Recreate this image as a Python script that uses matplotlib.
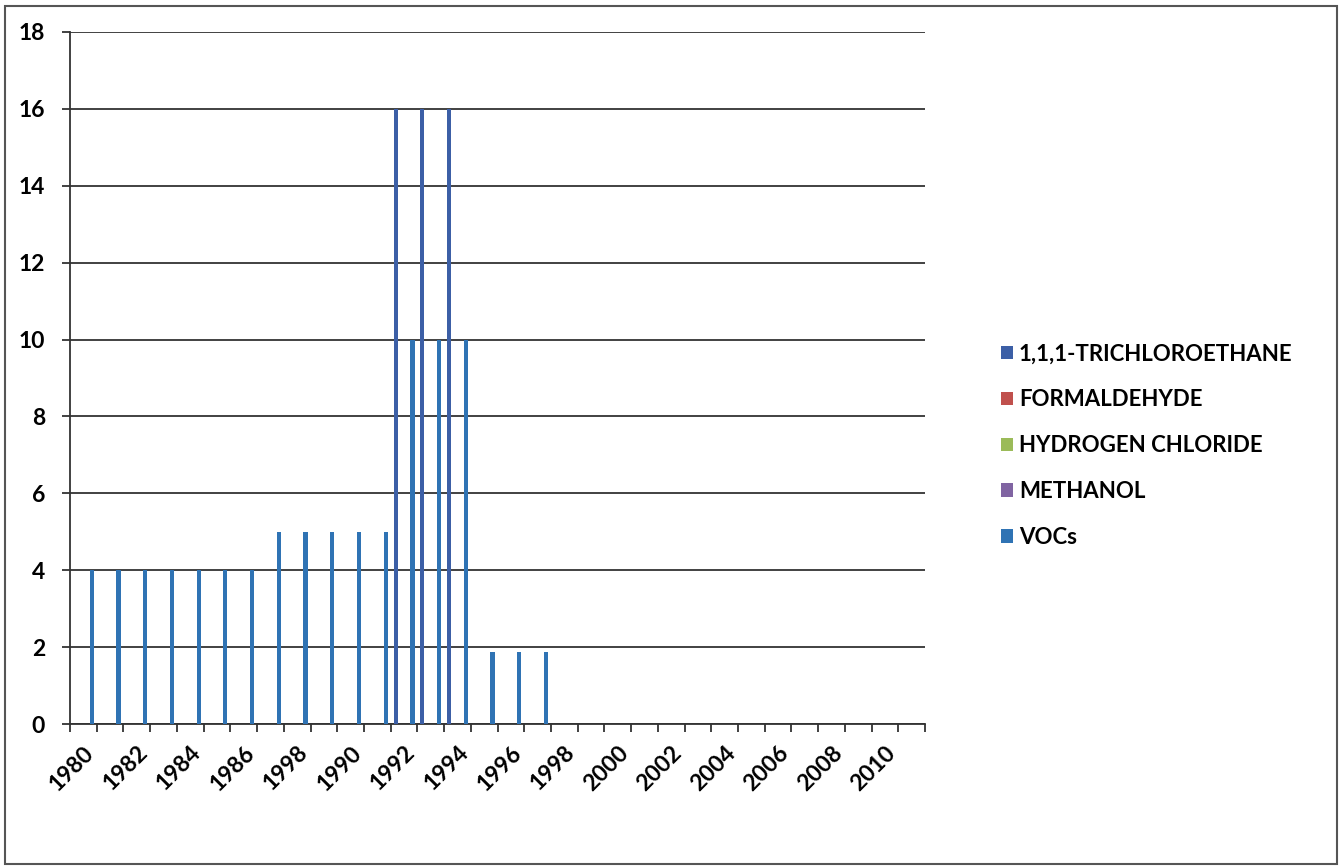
import numpy as np
import matplotlib
matplotlib.use('Agg')
from matplotlib import pyplot as plt
from matplotlib.patches import Rectangle

plt.rcParams['font.family'] = ['Lato', 'DejaVu Sans']
plt.rcParams['font.weight'] = 'bold'

# data
years = list(range(1980, 2012))
tick_labels = ['1980', '1982', '1984', '1986', '1998', '1990', '1992', '1994',
               '1996', '1998', '2000', '2002', '2004', '2006', '2008', '2010']
series_names = ['1,1,1-TRICHLOROETHANE', 'FORMALDEHYDE', 'HYDROGEN CHLORIDE', 'METHANOL', 'VOCs']
trichloroethane = [0] * 12 + [16, 16, 16] + [0] * 17
formaldehyde = [0] * 32
hydrogen_chloride = [0] * 32
methanol = [0] * 32
vocs = [4] * 7 + [5] * 5 + [10] * 3 + [1.88] * 3 + [0] * 14
colors = ['#3c5fa6', '#c0504d', '#9bbb59', '#8064a2', '#2f73b4']

values = [trichloroethane, formaldehyde, hydrogen_chloride, methanol, vocs]

fig = plt.figure(figsize=(13.42, 8.67), dpi=100)
ax = fig.add_axes([0.0522, 0.1649, 0.6371, 0.7982])

x = np.arange(len(years))
bw = 0.157
for k, (name, vals, c) in enumerate(zip(series_names, values, colors)):
    ax.bar(x + (k - 2) * bw, vals, width=bw, color=c, label=name, linewidth=0, zorder=3)

ax.set_xlim(-0.5, len(years) - 0.5)
ax.set_ylim(0, 18)
ax.set_yticks(np.arange(0, 19, 2))
ax.grid(axis='y', color='#333333', linewidth=1.3, zorder=1)
ax.set_axisbelow(True)

ax.set_xticks(x[::2])
ax.set_xticklabels(tick_labels, rotation=45, ha='right', rotation_mode='anchor', fontsize=16.5)
ax.set_xticks(np.arange(-0.5, len(years), 1), minor=True)
ax.tick_params(axis='x', which='major', length=0, pad=13)
ax.tick_params(axis='x', which='minor', length=6, width=1.3, color='#333333')
ax.tick_params(axis='y', length=6, width=1.3, color='#333333', labelsize=16.5, pad=12)

for s in ['top', 'right']:
    ax.spines[s].set_visible(False)
for s in ['left', 'bottom']:
    ax.spines[s].set_color('#333333')
    ax.spines[s].set_linewidth(1.3)

fig.legend(loc='center left', bbox_to_anchor=(0.731, 0.486), frameon=False,
           prop={'size': 16, 'weight': 'bold'}, handlelength=0.55, handleheight=0.55,
           handletextpad=0.25, labelspacing=1.12)

fig.patches.append(Rectangle((0.004, 0.003), 0.992, 0.99, transform=fig.transFigure,
                             fill=False, edgecolor='#555555', linewidth=1.5))

fig.savefig('out.png', dpi=100)
plt.close(fig)
